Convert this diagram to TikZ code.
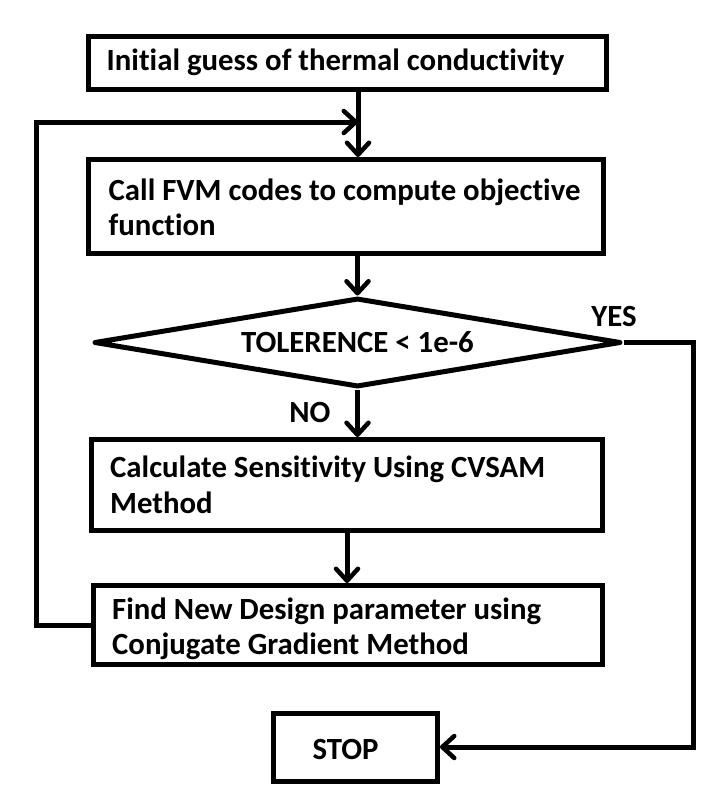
\documentclass[tikz,border=0pt]{standalone}
\usepackage{fontspec}
\setmainfont{Carlito}[Ligatures=NoCommon]
\usetikzlibrary{arrows.meta,shapes.geometric}

\begin{document}
\begin{tikzpicture}[x=1pt,y=-1pt,
  lw/.style={line width=5pt},
  txt/.style={font=\fontsize{30.8}{35.5}\selectfont\bfseries},
  flowbox/.style={draw,lw,rectangle,inner sep=0pt},
  boxtext/.style={inner sep=0pt,align=left,anchor=west,txt},
  decision/.style={draw,lw,diamond,shape aspect=5.9,inner sep=0pt,line join=round,txt},
  tag/.style={inner sep=0pt,txt},
  arr/.style={lw,-{Straight Barb[length=12pt,width=22pt,line width=4.5pt,round]}}]

\useasboundingbox (0,0) rectangle (712,793);
\fill[white] (0,0) rectangle (712,793);

% process steps
\node[flowbox,minimum width=518pt,minimum height=53pt] (init) at (347,62.5) {};
\node[boxtext] (initt) at ([xshift=21pt]init.west)
  {Initial guess of thermal conductivity};

\node[flowbox,minimum width=515pt,minimum height=94pt] (fvm) at (345.5,206.5) {};
\node[boxtext] (fvmt) at ([xshift=23pt,yshift=-1pt]fvm.west)
  {Call FVM codes to compute objective\\function};

\node[decision,minimum width=527pt,minimum height=89pt] (tol) at (357.5,342.5)
  {TOLERENCE < 1e-6};

\node[flowbox,minimum width=511pt,minimum height=91pt] (sens) at (347,485) {};
\node[boxtext] (senst) at ([xshift=21pt]sens.west)
  {Calculate Sensitivity Using CVSAM\\Method};

\node[flowbox,minimum width=509pt,minimum height=79pt] (cgm) at (348,625) {};
\node[boxtext] (cgmt) at ([xshift=21pt,yshift=-4pt]cgm.west)
  {Find New Design parameter using\\Conjugate Gradient Method};

\node[flowbox,minimum width=164pt,minimum height=68pt] (stop) at (355.5,747) {};
\node[tag] (stopt) at ([xshift=-10pt,yshift=-2pt]stop.center) {STOP};

% branch labels
\node[tag] (yes) at (614,317) {YES};
\node[tag] (no) at (310,412) {NO};

% routing points
\coordinate (spine) at (358,122);
\coordinate (loopcorner) at (36,122);
\coordinate (rightcorner) at (693,342.5);

% connectors
\draw[arr] (init.south -| spine) -- (fvm.north -| spine);
\draw[arr] (fvm.south -| tol.north) -- (tol.north);
\draw[arr] (tol.south) -- (tol.south |- sens.north);
\draw[arr] (sens.south) -- (sens.south |- cgm.north);
\draw[arr] (cgm.west) -| (loopcorner) -- (spine);
\draw[arr] (tol.east) -- (rightcorner) |- (stop.east);

\end{tikzpicture}
\end{document}
